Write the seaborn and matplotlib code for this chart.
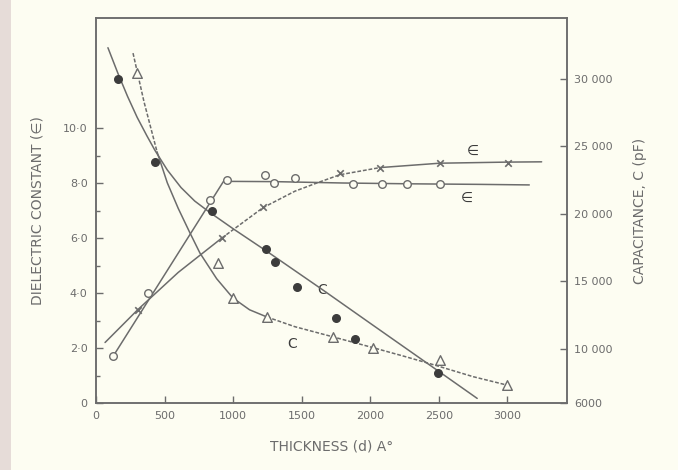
import matplotlib
matplotlib.use("Agg")
import matplotlib.pyplot as plt
import matplotlib.patches as mpatches
import pandas as pd
import seaborn as sns

# ---------------- data ----------------
# Dielectric constant (open circles) - left axis
eps_o_d = [125, 380, 830, 955, 1230, 1300, 1450, 1873, 2085, 2267, 2507]
eps_o_v = [1.7, 4.0, 7.4, 8.1, 8.3, 8.0, 8.2, 7.97, 7.97, 7.97, 7.97]
eps_o_curve_d = [125, 930, 1300, 1800, 2300, 2800, 3160]
eps_o_curve_v = [1.7, 8.06, 8.05, 8.0, 7.97, 7.95, 7.93]

# Dielectric constant (crosses) - left axis
eps_x_d = [306, 918, 1217, 1778, 2070, 2507, 3003]
eps_x_v = [3.4, 6.0, 7.13, 8.36, 8.56, 8.74, 8.74]
eps_x_curve_d = [66, 306, 600, 918, 1217, 1450, 1610, 1778, 2070, 2507, 3003, 3250]
eps_x_curve_v = [2.2, 3.4, 4.75, 6.0, 7.1, 7.7, 8.0, 8.3, 8.56, 8.72, 8.76, 8.77]

# Capacitance (filled circles) - right axis
cap_f_d = [160, 430, 845, 1239, 1305, 1465, 1749, 1888, 2493]
cap_f_v = [30000, 23840, 20210, 17400, 16440, 14590, 12290, 10740, 8220]
cap_f_curve_d = [87, 160, 230, 300, 370, 430, 520, 620, 720, 831, 1000, 1250, 1650, 2000, 2500, 2780]
cap_f_curve_v = [32300, 30400, 28700, 27150, 25800, 24700, 23250, 21950, 20950, 20100, 18900,
                 17200, 14400, 11900, 8340, 6340]

# Capacitance (open triangles) - right axis
cap_t_d = [299, 889, 1000, 1246, 1727, 2019, 2507, 2996]
cap_t_v = [30430, 16360, 13770, 12370, 10890, 10070, 9180, 7330]
cap_t_curve_d = [270, 350, 445, 520, 600, 680, 758, 880, 999, 1120, 1246, 1450, 1727, 2019,
                 2250, 2456, 2750, 2996]
cap_t_curve_v = [31900, 28300, 24600, 22300, 20400, 18700, 17100, 15200, 13770, 12900, 12370,
                 11650, 10900, 10100, 9450, 8850, 7950, 7330]

x_ticks = [0, 500, 1000, 1500, 2000, 2500, 3000]
x_labels = ["0", "500", "1000", "1500", "2000", "2500", "3000"]
left_ticks = [0, 2, 4, 6, 8, 10]
left_labels = ["0", "2·0", "4·0", "6·0", "8·0", "10·0"]
right_ticks = [6000, 10000, 15000, 20000, 25000, 30000]
right_labels = ["6000", "10 000", "15 000", "20 000", "25 000", "30 000"]

# ---------------- styling ----------------
sns.set_theme(style="ticks")
plt.rcParams["font.family"] = ["DejaVu Sans"]
BG = "#fdfdf2"
INK = "#6c6c6c"
DARK = "#3c3c3c"

fig = plt.figure(figsize=(6.78, 4.70), dpi=100, facecolor=BG)
ax = fig.add_axes([96 / 678, 1 - 403 / 470, (567 - 96) / 678, (403 - 18) / 470])
ax.set_facecolor(BG)
ax2 = ax.twinx()

# scan edge strip
fig.patches.append(mpatches.Rectangle((0, 0), 11 / 678, 1, transform=fig.transFigure,
                                      facecolor="#e6dcd8", edgecolor="none", zorder=0))

lw = 1.1
DASH = (2.5, 1.2)


def curve(axis, d, v, dashes=None):
    df = pd.DataFrame({"d": d, "v": v})
    sns.lineplot(data=df, x="d", y="v", ax=axis, color=INK, linewidth=lw,
                 sort=False, estimator=None)
    if dashes is not None:
        axis.lines[-1].set_dashes(dashes)


def marks(axis, d, v, marker, face, size, edge=INK, mew=1.0):
    df = pd.DataFrame({"d": d, "v": v})
    sns.scatterplot(data=df, x="d", y="v", ax=axis, marker=marker, s=size,
                    facecolor=face, edgecolor=edge, linewidth=mew, zorder=5)


# left axis curves
curve(ax, eps_o_curve_d, eps_o_curve_v)
i0, i1 = 3, 9   # dashed part of the cross curve
curve(ax, eps_x_curve_d[:i0 + 1], eps_x_curve_v[:i0 + 1])
curve(ax, eps_x_curve_d[i0:i1], eps_x_curve_v[i0:i1], dashes=DASH)
curve(ax, eps_x_curve_d[i1 - 1:], eps_x_curve_v[i1 - 1:])
marks(ax, eps_o_d, eps_o_v, "o", BG, 30)
marks(ax, eps_x_d, eps_x_v, "x", INK, 22, edge=INK, mew=1.2)

# right axis curves
curve(ax2, cap_f_curve_d, cap_f_curve_v)
k0, k1 = 2, 10
curve(ax2, cap_t_curve_d[:k0 + 1], cap_t_curve_v[:k0 + 1], dashes=DASH)
curve(ax2, cap_t_curve_d[k0:k1 + 1], cap_t_curve_v[k0:k1 + 1])
curve(ax2, cap_t_curve_d[k1:], cap_t_curve_v[k1:], dashes=DASH)
marks(ax2, cap_f_d, cap_f_v, "o", DARK, 30, edge=DARK)
marks(ax2, cap_t_d, cap_t_v, "^", BG, 48)

# curve labels
ax.text(2750, 9.15, "∈", color=DARK, fontsize=10, ha="center", va="center")
ax.text(2705, 7.45, "∈", color=DARK, fontsize=10, ha="center", va="center")
ax.text(1650, 4.1, "C", color=DARK, fontsize=10, ha="center", va="center")
ax.text(1430, 2.15, "C", color=DARK, fontsize=10, ha="center", va="center")

# axes limits / ticks
ax.set_xlim(0, 3435)
ax.set_ylim(0, 14)
ax2.set_ylim(6000, 34500)
ax.set_xticks(x_ticks)
ax.set_xticklabels(x_labels)
ax.set_yticks(left_ticks)
ax.set_yticklabels(left_labels)
ax.set_yticks([1, 3, 5, 7, 9], minor=True)
ax2.set_yticks(right_ticks)
ax2.set_yticklabels(right_labels)

for a in (ax, ax2):
    for s in a.spines.values():
        s.set_color(INK)
        s.set_linewidth(1.1)
ax.tick_params(axis="both", which="major", direction="in", length=5, width=1,
               color=INK, labelcolor=INK, labelsize=8, pad=6)
ax.tick_params(axis="y", which="minor", direction="in", length=3, width=1, color=INK)
ax.tick_params(axis="x", top=False)
ax2.tick_params(axis="y", direction="in", length=5, width=1, color=INK,
                labelcolor=INK, labelsize=8, pad=5)

ax.set_xlabel("THICKNESS (d) A°", color=INK, fontsize=10, labelpad=13)
ax.set_ylabel("DIELECTRIC CONSTANT (∈)", color=INK, fontsize=10, labelpad=13)
ax2.set_ylabel("CAPACITANCE, C (pF)", color=INK, fontsize=10, labelpad=15)

fig.savefig("out.png", dpi=100, facecolor=BG)
